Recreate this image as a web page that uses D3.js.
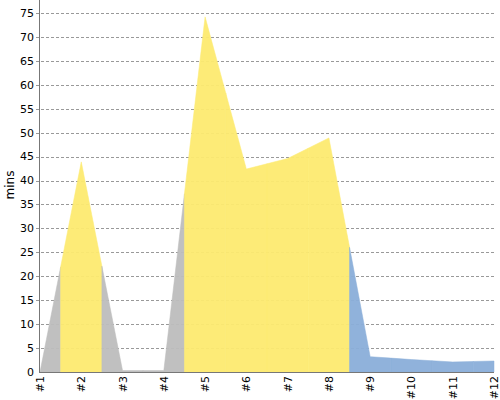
<!DOCTYPE html>
<html>
<head>
<meta charset="utf-8">
<script src="https://cdn.jsdelivr.net/npm/d3@7"></script>
<style>
  body { margin:0; background:#fff; }
  text { font-family: "DejaVu Sans", sans-serif; font-size:11px; fill:#000; }
</style>
</head>
<body>
<svg id="chart" width="500" height="400"></svg>
<script>
const labels = ["#1","#2","#3","#4","#5","#6","#7","#8","#9","#10","#11","#12"];
const mins = [0, 43.9, 0.3, 0.3, 74.2, 42.4, 44.6, 48.9, 3.2, 2.6, 2.1, 2.3];
const groups = ["gray","yellow","gray","gray","yellow","yellow","yellow","yellow","blue","blue","blue","blue"];
const yTicks = [0,5,10,15,20,25,30,35,40,45,50,55,60,65,70,75];

const colors = { gray:"#bdbdbd", yellow:"#fdea70", blue:"#8aaed9" };

const svg = d3.select("#chart");
const margin = { top:13, right:6, bottom:28, left:40 };
const width = +svg.attr("width");
const height = +svg.attr("height");

const x = d3.scaleLinear().domain([0, labels.length - 1]).range([margin.left, width - margin.right]);
const y = d3.scaleLinear().domain([0, 75]).range([height - margin.bottom, margin.top]);

// gridlines
svg.append("g")
  .selectAll("line")
  .data(yTicks.filter(d => d > 0))
  .enter()
  .append("line")
  .attr("x1", margin.left - 4)
  .attr("x2", width - margin.right)
  .attr("y1", d => Math.round(y(d)) + 0.5)
  .attr("y2", d => Math.round(y(d)) + 0.5)
  .attr("stroke", "#999")
  .attr("stroke-dasharray", "3,2");

// area, one piece per point, spanning half a step on each side
const area = d3.area()
  .x(d => x(d[0]))
  .y0(y(0))
  .y1(d => y(d[1]));

const n = mins.length;
const pieces = mins.map((v, i) => {
  const pts = [];
  if (i > 0) pts.push([i - 0.5, (mins[i - 1] + v) / 2]);
  pts.push([i, v]);
  if (i < n - 1) pts.push([i + 0.5, (mins[i + 1] + v) / 2]);
  return { group: groups[i], pts };
});

svg.append("g")
  .selectAll("path")
  .data(pieces)
  .enter()
  .append("path")
  .attr("d", d => area(d.pts))
  .attr("fill", d => colors[d.group])
  .attr("fill-opacity", 0.95)
  .attr("stroke", d => colors[d.group])
  .attr("stroke-width", 0.5);

// axes lines
svg.append("line")
  .attr("x1", margin.left - 0.5).attr("x2", margin.left - 0.5)
  .attr("y1", 0).attr("y2", y(0) + 1)
  .attr("stroke", "#777");

svg.append("line")
  .attr("x1", margin.left - 1).attr("x2", width - margin.right)
  .attr("y1", Math.round(y(0)) + 0.5).attr("y2", Math.round(y(0)) + 0.5)
  .attr("stroke", "#777");

// y tick labels
svg.append("g")
  .selectAll("text")
  .data(yTicks)
  .enter()
  .append("text")
  .attr("x", margin.left - 6)
  .attr("y", d => y(d))
  .attr("dy", "0.35em")
  .attr("text-anchor", "end")
  .text(d => d);

// x labels rotated
svg.append("g")
  .selectAll("text")
  .data(labels)
  .enter()
  .append("text")
  .attr("transform", (d, i) => `translate(${x(i) + 4}, ${y(0) + 4}) rotate(-90)`)
  .attr("text-anchor", "end")
  .text(d => d);

svg.append("text")
  .attr("transform", "rotate(-90)")
  .attr("x", -185)
  .attr("y", 14)
  .attr("text-anchor", "middle")
  .style("font-size", "12px")
  .text("mins");
</script>
</body>
</html>
